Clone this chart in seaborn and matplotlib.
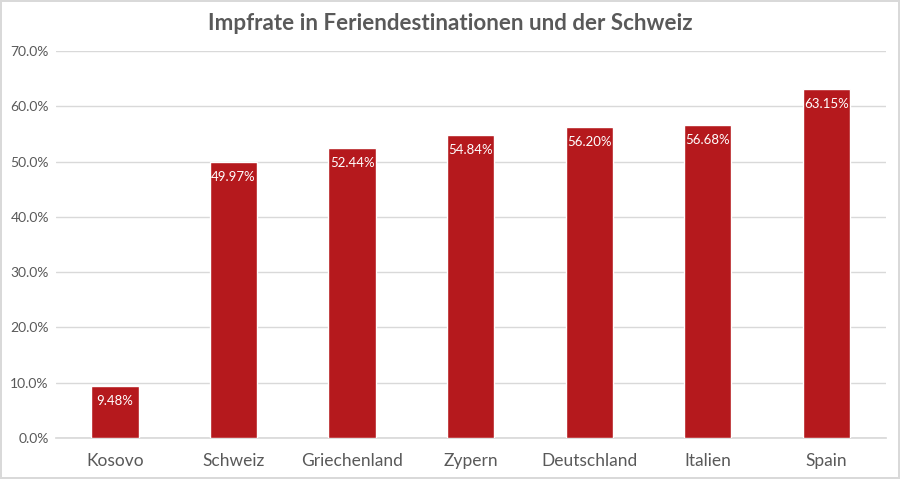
import pandas as pd
import seaborn as sns
import matplotlib.pyplot as plt
from matplotlib.ticker import PercentFormatter

# data
countries = ['Kosovo', 'Schweiz', 'Griechenland', 'Zypern', 'Deutschland', 'Italien', 'Spain']
rates = [9.48, 49.97, 52.44, 54.84, 56.20, 56.68, 63.15]

df = pd.DataFrame({'Land': countries, 'Impfrate': rates})

sns.set_theme(style='white')
plt.rcParams['font.family'] = ['Lato', 'DejaVu Sans']

fig = plt.figure(figsize=(9, 4.79), dpi=100)
fig.patch.set_edgecolor('#D9D9D9')
fig.patch.set_linewidth(1.5)
ax = fig.add_axes([0.062, 0.0856, 0.922, 0.808])

sns.barplot(data=df, x='Land', y='Impfrate', color='#B5191D', saturation=1,
            width=0.4, ax=ax, zorder=3)

ax.set_ylim(0, 70)
ax.set_yticks(range(0, 71, 10))
ax.yaxis.set_major_formatter(PercentFormatter(decimals=1))
ax.grid(axis='y', color='#D9D9D9', linewidth=1, zorder=0)
ax.set_xlabel('')
ax.set_ylabel('')
for s in ['top', 'right', 'left']:
    ax.spines[s].set_visible(False)
ax.spines['bottom'].set_color('#D9D9D9')
ax.tick_params(axis='y', labelsize=10, labelcolor='#595959', length=0, pad=5)
ax.tick_params(axis='x', labelsize=12.5, labelcolor='#595959', length=0, pad=11)

# value labels inside bar tops
for i, v in enumerate(rates):
    ax.annotate(f'{v:.2f}%', (i, v), xytext=(0, -6.5), textcoords='offset points',
                ha='center', va='top', color='white', fontsize=9.5, zorder=4)

fig.suptitle('Impfrate in Feriendestinationen und der Schweiz', y=0.972,
             fontsize=16.1, fontweight='bold', color='#595959')

fig.savefig('out.png', dpi=100)
